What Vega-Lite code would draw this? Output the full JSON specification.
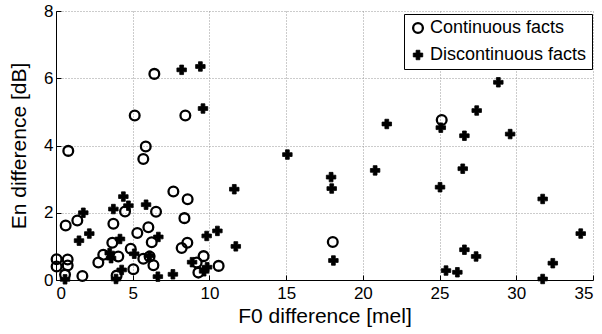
{
  "$schema": "https://vega.github.io/schema/vega-lite/v6.json",
  "width": 537,
  "height": 269,
  "autosize": "none",
  "padding": {"left": 56, "top": 11, "right": 9, "bottom": 54},
  "background": "white",
  "config": {
    "view": {"stroke": null},
    "font": "Liberation Sans",
    "axis": {
      "domainColor": "black",
      "domainWidth": 1,
      "tickColor": "black",
      "tickSize": -5,
      "gridColor": "#999999",
      "gridDash": [1, 2],
      "gridWidth": 1,
      "labelFont": "Liberation Sans",
      "labelFontSize": 17,
      "labelColor": "black",
      "titleFont": "Liberation Sans",
      "titleFontSize": 21,
      "titleFontWeight": "normal",
      "titleColor": "black"
    },
    "legend": {
      "labelFont": "Liberation Sans",
      "labelFontSize": 18,
      "labelColor": "black",
      "orient": "none",
      "legendX": 348,
      "legendY": 3,
      "strokeColor": "black",
      "fillColor": "white",
      "padding": 5,
      "rowPadding": 8,
      "labelOffset": 3,
      "symbolOffset": 0
    }
  },
  "data": {
    "values": [
      {"type": "Continuous facts", "f0": 6.41, "en": 6.13},
      {"type": "Continuous facts", "f0": 5.13, "en": 4.89},
      {"type": "Continuous facts", "f0": 8.43, "en": 4.89},
      {"type": "Continuous facts", "f0": 5.85, "en": 3.97},
      {"type": "Continuous facts", "f0": 5.69, "en": 3.6},
      {"type": "Continuous facts", "f0": 0.8, "en": 3.84},
      {"type": "Continuous facts", "f0": 7.65, "en": 2.63},
      {"type": "Continuous facts", "f0": 8.58, "en": 2.4},
      {"type": "Continuous facts", "f0": 8.37, "en": 1.84},
      {"type": "Continuous facts", "f0": 4.5, "en": 2.04},
      {"type": "Continuous facts", "f0": 6.52, "en": 2.03},
      {"type": "Continuous facts", "f0": 1.39, "en": 1.77},
      {"type": "Continuous facts", "f0": 0.63, "en": 1.62},
      {"type": "Continuous facts", "f0": 3.74, "en": 1.67},
      {"type": "Continuous facts", "f0": 5.3, "en": 1.4},
      {"type": "Continuous facts", "f0": 6.02, "en": 1.57},
      {"type": "Continuous facts", "f0": 6.24, "en": 1.12},
      {"type": "Continuous facts", "f0": 3.67, "en": 1.11},
      {"type": "Continuous facts", "f0": 4.87, "en": 0.93},
      {"type": "Continuous facts", "f0": 3.08, "en": 0.75},
      {"type": "Continuous facts", "f0": 2.76, "en": 0.52},
      {"type": "Continuous facts", "f0": 4.06, "en": 0.7},
      {"type": "Continuous facts", "f0": 5.69, "en": 0.63},
      {"type": "Continuous facts", "f0": 6.1, "en": 0.7},
      {"type": "Continuous facts", "f0": 6.35, "en": 0.44},
      {"type": "Continuous facts", "f0": 5.04, "en": 0.32},
      {"type": "Continuous facts", "f0": 3.95, "en": 0.13},
      {"type": "Continuous facts", "f0": 1.72, "en": 0.12},
      {"type": "Continuous facts", "f0": 0.04, "en": 0.62},
      {"type": "Continuous facts", "f0": 0.04, "en": 0.4},
      {"type": "Continuous facts", "f0": 0.76, "en": 0.61},
      {"type": "Continuous facts", "f0": 0.76, "en": 0.43},
      {"type": "Continuous facts", "f0": 0.59, "en": 0.16},
      {"type": "Continuous facts", "f0": 8.19, "en": 0.95},
      {"type": "Continuous facts", "f0": 8.56, "en": 1.11},
      {"type": "Continuous facts", "f0": 9.62, "en": 0.71},
      {"type": "Continuous facts", "f0": 9.17, "en": 0.52},
      {"type": "Continuous facts", "f0": 9.28, "en": 0.22},
      {"type": "Continuous facts", "f0": 10.6, "en": 0.42},
      {"type": "Continuous facts", "f0": 18.04, "en": 1.13},
      {"type": "Continuous facts", "f0": 25.14, "en": 4.76},
      {"type": "Discontinuous facts", "f0": 8.19, "en": 6.25},
      {"type": "Discontinuous facts", "f0": 9.41, "en": 6.35},
      {"type": "Discontinuous facts", "f0": 9.58, "en": 5.1},
      {"type": "Discontinuous facts", "f0": 11.62, "en": 2.7},
      {"type": "Discontinuous facts", "f0": 4.39, "en": 2.48},
      {"type": "Discontinuous facts", "f0": 3.74, "en": 2.11},
      {"type": "Discontinuous facts", "f0": 4.72, "en": 2.21},
      {"type": "Discontinuous facts", "f0": 5.87, "en": 2.24},
      {"type": "Discontinuous facts", "f0": 1.78, "en": 2.0},
      {"type": "Discontinuous facts", "f0": 1.5, "en": 1.17},
      {"type": "Discontinuous facts", "f0": 2.17, "en": 1.38},
      {"type": "Discontinuous facts", "f0": 6.67, "en": 1.28},
      {"type": "Discontinuous facts", "f0": 4.17, "en": 1.22},
      {"type": "Discontinuous facts", "f0": 3.5, "en": 0.8},
      {"type": "Discontinuous facts", "f0": 3.59, "en": 0.65},
      {"type": "Discontinuous facts", "f0": 5.1, "en": 0.78},
      {"type": "Discontinuous facts", "f0": 6.1, "en": 0.72},
      {"type": "Discontinuous facts", "f0": 4.28, "en": 0.3},
      {"type": "Discontinuous facts", "f0": 3.91, "en": 0.03},
      {"type": "Discontinuous facts", "f0": 6.64, "en": 0.1},
      {"type": "Discontinuous facts", "f0": 7.62, "en": 0.17},
      {"type": "Discontinuous facts", "f0": 0.59, "en": 0.02},
      {"type": "Discontinuous facts", "f0": 9.82, "en": 1.31},
      {"type": "Discontinuous facts", "f0": 10.52, "en": 1.46},
      {"type": "Discontinuous facts", "f0": 11.72, "en": 1.0},
      {"type": "Discontinuous facts", "f0": 8.87, "en": 0.53},
      {"type": "Discontinuous facts", "f0": 9.85, "en": 0.38},
      {"type": "Discontinuous facts", "f0": 9.65, "en": 0.26},
      {"type": "Discontinuous facts", "f0": 15.08, "en": 3.73},
      {"type": "Discontinuous facts", "f0": 17.93, "en": 3.06},
      {"type": "Discontinuous facts", "f0": 17.97, "en": 2.72},
      {"type": "Discontinuous facts", "f0": 20.8, "en": 3.26},
      {"type": "Discontinuous facts", "f0": 21.56, "en": 4.64},
      {"type": "Discontinuous facts", "f0": 18.08, "en": 0.58},
      {"type": "Discontinuous facts", "f0": 28.83, "en": 5.88},
      {"type": "Discontinuous facts", "f0": 27.42, "en": 5.04},
      {"type": "Discontinuous facts", "f0": 25.08, "en": 4.53},
      {"type": "Discontinuous facts", "f0": 26.62, "en": 4.29},
      {"type": "Discontinuous facts", "f0": 29.6, "en": 4.34},
      {"type": "Discontinuous facts", "f0": 24.6, "en": 6.54},
      {"type": "Discontinuous facts", "f0": 26.51, "en": 3.31},
      {"type": "Discontinuous facts", "f0": 25.03, "en": 2.76},
      {"type": "Discontinuous facts", "f0": 31.72, "en": 2.41},
      {"type": "Discontinuous facts", "f0": 34.2, "en": 1.38},
      {"type": "Discontinuous facts", "f0": 26.62, "en": 0.9},
      {"type": "Discontinuous facts", "f0": 27.38, "en": 0.7},
      {"type": "Discontinuous facts", "f0": 32.38, "en": 0.5},
      {"type": "Discontinuous facts", "f0": 25.42, "en": 0.28},
      {"type": "Discontinuous facts", "f0": 26.16, "en": 0.23},
      {"type": "Discontinuous facts", "f0": 31.72, "en": 0.03}
    ]
  },
  "mark": {"type": "point", "stroke": "black", "opacity": 1, "clip": false},
  "encoding": {
    "x": {
      "field": "f0", "type": "quantitative",
      "scale": {"domain": [0, 35], "nice": false, "zero": false},
      "axis": {"title": "F0 difference [mel]", "values": [0, 5, 10, 15, 20, 25, 30, 35], "labelPadding": 10, "titlePadding": 4}
    },
    "y": {
      "field": "en", "type": "quantitative",
      "scale": {"domain": [0, 8], "nice": false, "zero": false},
      "axis": {"title": "En difference [dB]", "values": [0, 2, 4, 6, 8], "labelPadding": 8, "titlePadding": 14}
    },
    "shape": {
      "field": "type", "type": "nominal",
      "scale": {"domain": ["Continuous facts", "Discontinuous facts"], "range": ["circle", "cross"]},
      "legend": {"title": null, "encode": {"symbols": {"update": {"stroke": {"value": "black"}}}}}
    },
    "size": {
      "field": "type", "type": "nominal",
      "scale": {"domain": ["Continuous facts", "Discontinuous facts"], "range": [95, 90]},
      "legend": {"title": null, "encode": {"symbols": {"update": {"stroke": {"value": "black"}}}}}
    },
    "strokeWidth": {
      "field": "type", "type": "nominal",
      "scale": {"domain": ["Continuous facts", "Discontinuous facts"], "range": [2.3, 0.8]},
      "legend": {"title": null, "encode": {"symbols": {"update": {"stroke": {"value": "black"}}}}}
    },
    "fill": {
      "field": "type", "type": "nominal",
      "scale": {"domain": ["Continuous facts", "Discontinuous facts"], "range": ["transparent", "black"]},
      "legend": {"title": null, "encode": {"symbols": {"update": {"stroke": {"value": "black"}}}}}
    }
  }
}
